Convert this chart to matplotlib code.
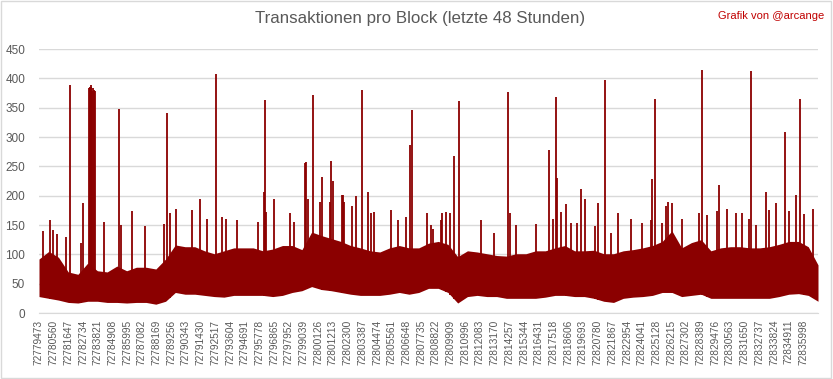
import numpy as np
import matplotlib.pyplot as plt
from matplotlib.patches import Rectangle

# block range: last 48 hours (57600 blocks)
first_block = 72779473
n_blocks = 57600

# category labels shown under the axis (every 1087th block)
tick_labels = ['72779473', '72780560', '72781647', '72782734', '72783821', '72784908', '72785995',
               '72787082', '72788169', '72789256', '72790343', '72791430', '72792517', '72793604',
               '72794691', '72795778', '72796865', '72797952', '72799039', '72800126', '72801213',
               '72802300', '72803387', '72804474', '72805561', '72806648', '72807735', '72808822',
               '72809909', '72810996', '72812083', '72813170', '72814257', '72815344', '72816431',
               '72817518', '72818606', '72819693', '72820780', '72821867', '72822954', '72824041',
               '72825128', '72826215', '72827302', '72828389', '72829476', '72830563', '72831650',
               '72832737', '72833824', '72834911', '72835998']

# envelope of the dense band, one point every 720 blocks
env_step = 720
env_low = [28, 25, 22, 18, 17, 20, 20, 18, 18, 17, 18, 18, 15, 20, 35, 32, 32, 30, 28, 27,
           30, 30, 30, 30, 28, 30, 35, 38, 45, 40, 38, 35, 32, 30, 30, 30, 32, 35, 32, 35,
           42, 42, 35, 17, 28, 30, 28, 28, 25, 25, 25, 25, 27, 30, 30, 28, 28, 25, 20, 18,
           25, 27, 28, 30, 35, 35, 28, 30, 32, 25, 25, 25, 25, 25, 25, 25, 28, 32, 33, 30, 20]
# upper edge of the dense mass
env_top = [92, 105, 95, 70, 66, 85, 72, 70, 80, 72, 78, 78, 75, 92, 116, 113, 113, 106, 101, 106,
           111, 111, 111, 106, 109, 115, 115, 108, 138, 132, 127, 122, 115, 111, 106, 104, 111, 115, 111, 111,
           119, 122, 117, 96, 106, 104, 101, 98, 97, 101, 101, 106, 106, 111, 115, 106, 106, 107, 101, 101,
           106, 108, 111, 115, 122, 140, 111, 120, 125, 106, 111, 113, 113, 111, 111, 113, 117, 122, 122, 113, 82]

# single blocks standing out of the band (offset from first block, transactions)
spike_offset = [296, 838, 1060, 1356, 1972, 2317, 3081, 3278,
                3698, 3760, 3820, 3880, 3940, 4000, 4060, 4120,
                4831, 5941, 6050, 6902, 7863, 9244, 9490,
                9661, 10154, 11338, 11929, 12447, 13112, 13556, 13803, 14665, 16218, 16662, 16736,
                16810, 17401, 18560, 18856,
                19668, 19766, 19914, 20284, 20752, 20950, 21492, 21615, 21763, 22379, 22478, 22576,
                23168, 23415, 23908, 24302, 24524, 24795, 26052, 26520, 27161, 27457, 27556, 28714,
                28960, 29133, 29700, 29823, 30119, 30415, 30710, 31080, 32707, 33644, 34704, 34827,
                35246, 36774, 37736, 38007, 38253, 38330,
                38622, 38991, 39312, 39805, 40101, 40396, 41136, 41358, 41875, 42270, 42837, 43798,
                44612, 45228, 45351, 45524, 46091, 46387, 46485, 46830, 47570,
                48825, 49047, 49417, 50156, 50304, 50896, 51512, 52005, 52498, 52671, 52991, 53731,
                54002, 54519, 55185, 55456, 55998, 56294, 56541, 57231]
spike_value = [140, 158, 142, 134, 129, 389, 120, 188,
               383, 386, 385, 388, 378, 384, 380, 378,
               155, 348, 150, 174, 149, 151, 341,
               170, 178, 176, 194, 160, 407, 163, 161, 158, 155, 206, 363,
               173, 194, 170, 155,
               255, 258, 194, 372, 190, 231, 190, 259, 225, 201, 201, 190,
               183, 199, 380, 206, 171, 173, 175, 158, 163, 286, 346, 170,
               150, 144, 158, 171, 173, 171, 268, 361, 159, 137, 377, 170,
               150, 152, 278, 161, 368, 230,
               173, 186, 154, 153, 212, 195, 148, 188, 398, 137, 171, 160,
               154, 159, 228, 365, 154, 182, 189, 187, 161,
               171, 415, 167, 174, 218, 178, 170, 171, 161, 412, 150, 207,
               175, 187, 309, 174, 201, 364, 168, 178]

red = '#8b0000'
grey_text = '#595959'
grid_col = '#d9d9d9'

env_x = first_block + np.arange(len(env_low)) * env_step
spike_x = first_block + np.array(spike_offset)
spike_base = np.interp(spike_x, env_x, env_low)

plt.rcParams['font.family'] = ['Liberation Sans', 'DejaVu Sans']

fig = plt.figure(figsize=(8.33, 3.79), dpi=100)
ax = fig.add_axes([39 / 833, 1 - 313 / 379, 779 / 833, 264 / 379])

ax.fill_between(env_x, env_low, env_top, color=red, linewidth=0, zorder=3)
ax.vlines(spike_x, spike_base, spike_value, color=red, linewidth=1.3, zorder=4)

ax.set_xlim(first_block, first_block + n_blocks)
ax.set_ylim(0, 450)
ax.set_yticks(np.arange(0, 451, 50))
ticks = [int(t) for t in tick_labels]
ax.set_xticks(ticks)
ax.set_xticklabels(tick_labels, rotation=90, fontsize=7.3, color=grey_text)
ax.tick_params(axis='y', labelsize=8.5, labelcolor=grey_text, length=0, pad=10)
ax.tick_params(axis='x', length=0, pad=5)
ax.grid(axis='y', color=grid_col, linewidth=1)
ax.set_axisbelow(True)
for side in ['top', 'right', 'left']:
    ax.spines[side].set_visible(False)
ax.spines['bottom'].set_color(grid_col)

fig.text(0.504, 0.95, 'Transaktionen pro Block (letzte 48 Stunden)', ha='center', va='center',
         fontsize=12.2, color=grey_text)
fig.text(0.99, 0.957, 'Grafik von @arcange', ha='right', va='center', fontsize=8, color='#c00000')

fig.patches.append(Rectangle((0.001, 0.002), 0.997, 0.995, transform=fig.transFigure,
                             fill=False, edgecolor=grid_col, linewidth=1))

fig.savefig('out.png', dpi=100)
